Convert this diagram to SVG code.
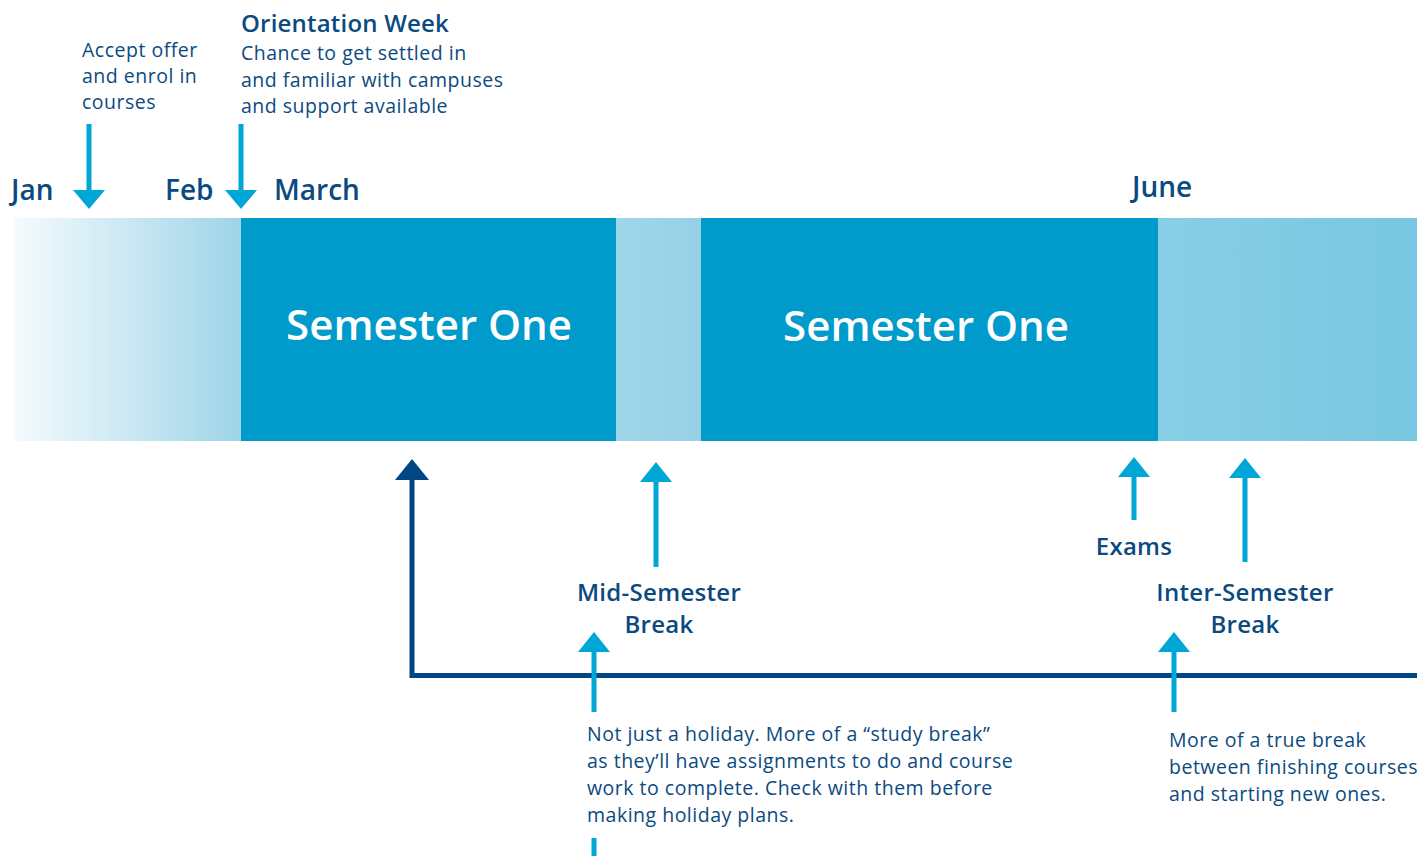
<svg xmlns="http://www.w3.org/2000/svg" width="1417" height="856" viewBox="0 0 1417 856">
<style>
.t{font-family:"Open Sans","Liberation Sans",sans-serif;fill:#0b4a80}
.b{font-weight:600}
.sm{font-size:19.5px;letter-spacing:0.5px}
.lb{font-size:24px;font-weight:600;letter-spacing:0.3px}
.mo{font-size:28px;font-weight:600}
.sem{font-family:"Open Sans","Liberation Sans",sans-serif;font-size:42px;font-weight:600;fill:#ffffff}
.ca{stroke:#00a7d6;stroke-width:5;fill:none}
.da{stroke:#004683;stroke-width:5;fill:none}
</style>
<defs>
<linearGradient id="g1" x1="0" x2="1" y1="0" y2="0">
<stop offset="0" stop-color="#f6fbfd"/>
<stop offset="1" stop-color="#9ed4e8"/>
</linearGradient>
<linearGradient id="g2" x1="0" x2="1" y1="0" y2="0">
<stop offset="0" stop-color="#9fd6e9"/>
<stop offset="1" stop-color="#97d0e7"/>
</linearGradient>
<linearGradient id="g3" x1="0" x2="1" y1="0" y2="0">
<stop offset="0" stop-color="#88cfe5"/>
<stop offset="1" stop-color="#78c6e1"/>
</linearGradient>
</defs>
<g id="bar">
<rect x="14" y="218" width="227" height="223" fill="url(#g1)"/>
<rect x="241" y="218" width="375" height="223" fill="#009bcb"/>
<rect x="616" y="218" width="85" height="223" fill="url(#g2)"/>
<rect x="701" y="218" width="457" height="223" fill="#009bcb"/>
<rect x="1158" y="218" width="259" height="223" fill="url(#g3)"/>
<text class="sem" x="429" y="340" text-anchor="middle">Semester One</text>
<text class="sem" x="926" y="341" text-anchor="middle">Semester One</text>
</g>
<g id="months">
<text class="t mo" x="11" y="200">Jan</text>
<text class="t mo" x="165" y="200">Feb</text>
<text class="t mo" x="274" y="200">March</text>
<text class="t mo" x="1132" y="197">June</text>
</g>
<g id="accept">
<text class="t sm" x="82" y="57">Accept offer</text>
<text class="t sm" x="82" y="83">and enrol in</text>
<text class="t sm" x="82" y="109">courses</text>
</g>
<g id="orientation">
<text class="t b" style="font-size:24px;letter-spacing:0.2px" x="241" y="32">Orientation Week</text>
<text class="t sm" x="241" y="60">Chance to get settled in</text>
<text class="t sm" x="241" y="87">and familiar with campuses</text>
<text class="t sm" x="241" y="113">and support available</text>
</g>
<g id="midbreak">
<text class="t lb" x="659" y="601" text-anchor="middle">Mid-Semester</text>
<text class="t lb" x="659" y="633" text-anchor="middle">Break</text>
</g>
<g id="midnote">
<text class="t sm" x="587" y="741">Not just a holiday. More of a “study break”</text>
<text class="t sm" x="587" y="768">as they’ll have assignments to do and course</text>
<text class="t sm" x="587" y="795">work to complete. Check with them before</text>
<text class="t sm" x="587" y="822">making holiday plans.</text>
</g>
<g id="exams">
<text class="t lb" x="1134" y="555" text-anchor="middle">Exams</text>
</g>
<g id="interbreak">
<text class="t lb" x="1245" y="601" text-anchor="middle">Inter-Semester</text>
<text class="t lb" x="1245" y="633" text-anchor="middle">Break</text>
</g>
<g id="internote">
<text class="t sm" x="1169" y="747">More of a true break</text>
<text class="t sm" x="1169" y="774">between finishing courses</text>
<text class="t sm" x="1169" y="801">and starting new ones.</text>
</g>
<g id="connectors">
<line class="ca" x1="89" y1="124" x2="89" y2="192"/>
<polygon points="73,190 105,190 89,209" fill="#00a7d6"/>
<line class="ca" x1="241" y1="124" x2="241" y2="192"/>
<polygon points="225,190 257,190 241,209" fill="#00a7d6"/>
<path class="da" d="M412,478 V675.5 H1417"/>
<polygon points="395,480 429,480 412,459" fill="#004683"/>
<line class="ca" x1="656" y1="479" x2="656" y2="567"/>
<polygon points="640,482 672,482 656,462" fill="#00a7d6"/>
<line class="ca" x1="594" y1="649" x2="594" y2="712"/>
<polygon points="578,652 610,652 594,632" fill="#00a7d6"/>
<line class="ca" x1="594" y1="838" x2="594" y2="856"/>
<line class="ca" x1="1134" y1="474" x2="1134" y2="520"/>
<polygon points="1118,477 1150,477 1134,457" fill="#00a7d6"/>
<line class="ca" x1="1245" y1="475" x2="1245" y2="562"/>
<polygon points="1229,478 1261,478 1245,458" fill="#00a7d6"/>
<line class="ca" x1="1174" y1="649" x2="1174" y2="712"/>
<polygon points="1158,652 1190,652 1174,632" fill="#00a7d6"/>
</g>
</svg>
